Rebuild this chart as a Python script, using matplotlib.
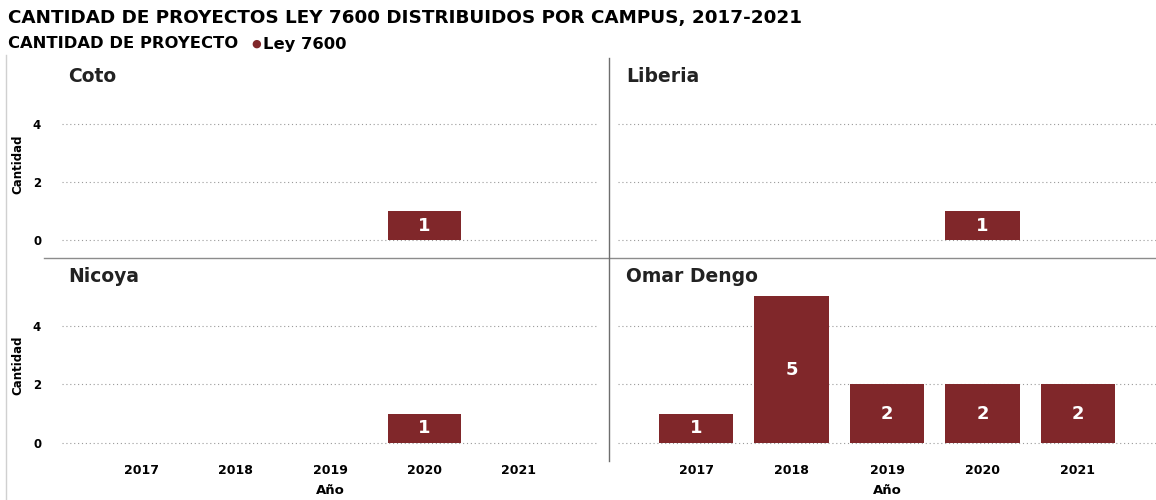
import matplotlib
matplotlib.use("Agg")
import matplotlib.pyplot as plt
from matplotlib.lines import Line2D

W, H = 1156, 500
years = ["2017", "2018", "2019", "2020", "2021"]
campuses = ["Coto", "Liberia", "Nicoya", "Omar Dengo"]
coto = [0, 0, 0, 1, 0]
liberia = [0, 0, 0, 1, 0]
nicoya = [0, 0, 0, 1, 0]
omar_dengo = [1, 5, 2, 2, 2]
yticks = [0, 2, 4]

title = "CANTIDAD DE PROYECTOS LEY 7600 DISTRIBUIDOS POR CAMPUS, 2017-2021"
subtitle = "CANTIDAD DE PROYECTO"
legend_label = "Ley 7600"
bar_color = "#80272a"

values = [coto, liberia, nicoya, omar_dengo]

fig = plt.figure(figsize=(W / 100, H / 100), dpi=100)
plt.rcParams['font.family'] = ['DejaVu Sans']

def px_axes(x0, y0, x1, y1):
    return fig.add_axes([x0 / W, 1 - y1 / H, (x1 - x0) / W, (y1 - y0) / H])

panels = [
    (62, 58, 598, 258, (-0.62, 6.28), (-0.84, 4.84)),
    (618, 58, 1156, 258, (-0.62, 6.28), (-0.82, 4.82)),
    (62, 258, 598, 460, (-0.58, 6.31), (-0.84, 4.84)),
    (618, 258, 1156, 460, (-0.58, 6.31), (-0.82, 4.82)),
]

xpos = list(range(len(years)))
for i, (name, vals, (x0, y0, x1, y1, yl, xl)) in enumerate(zip(campuses, values, panels)):
    ax = px_axes(x0, y0, x1, y1)
    ax.set_facecolor("none")
    for s in ax.spines.values():
        s.set_visible(False)
    ax.set_xlim(*xl)
    ax.set_ylim(*yl)
    for yv in yticks:
        ax.axhline(yv, color="#9a9a9a", lw=0.8, linestyle=(0, (1, 2.5)), zorder=1)
    bars = ax.bar(xpos, vals, width=0.78, color=bar_color, zorder=2)
    for b, v in zip(bars, vals):
        if v > 0:
            ax.text(b.get_x() + b.get_width() / 2, v / 2, str(v), ha="center", va="center",
                    color="white", fontsize=13, fontweight="heavy", zorder=3)
    ax.text(6 / (x1 - x0) if i % 2 == 0 else 8 / (x1 - x0), 1 - 18 / (y1 - y0), name,
            transform=ax.transAxes, ha="left", va="center", fontsize=13.5,
            fontweight="heavy", color="#222222")
    ax.tick_params(length=0)
    if i % 2 == 0:
        ax.set_yticks(yticks)
        ax.set_yticklabels([str(t) for t in yticks], fontsize=8.5, fontweight="heavy")
        ax.tick_params(axis="y", pad=15)
        ax.set_ylabel("Cantidad", fontsize=8.5, fontweight="heavy")
        ax.yaxis.set_label_coords(-38 / (x1 - x0), 0.47)
    else:
        ax.set_yticks([])
    if i >= 2:
        ax.set_xticks(xpos)
        ax.set_xticklabels(years, fontsize=9, fontweight="heavy")
        ax.tick_params(axis="x", pad=3)
        ax.set_xlabel("Año", fontsize=9.5, fontweight="heavy", labelpad=5)
    else:
        ax.set_xticks([])

def fig_line(xa, ya, xb, yb, color, lw):
    fig.add_artist(Line2D([xa / W, xb / W], [1 - ya / H, 1 - yb / H], color=color, lw=lw,
                          transform=fig.transFigure))

fig_line(44, 258, 1156, 258, "#8c8c8c", 1.0)
fig_line(609, 58, 609, 461, "#6e6e6e", 1.0)
fig_line(6, 55, 6, 500, "#d0d0d0", 1.0)

fig.text(8 / W, 1 - 18 / H, title, ha="left", va="center", fontsize=13.2,
         fontweight="heavy", color="black")
fig.text(8 / W, 1 - 44 / H, subtitle, ha="left", va="center", fontsize=11.8,
         fontweight="heavy", color="black")
fig.text(251 / W, 1 - 44 / H, "\u25CF", ha="left", va="center", fontsize=8,
         color=bar_color)
fig.text(263 / W, 1 - 44 / H, legend_label, ha="left", va="center", fontsize=11.8,
         fontweight="heavy", color="black")

fig.savefig("out.png", dpi=100)
